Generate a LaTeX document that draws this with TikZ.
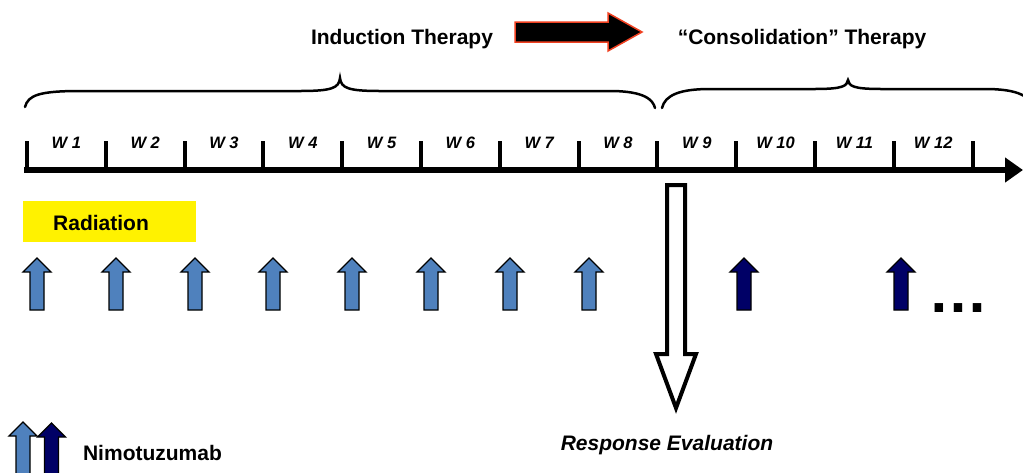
\documentclass[tikz,border=0pt]{standalone}
\usepackage{fontspec}
\setmainfont{Liberation Sans}
\usetikzlibrary{arrows.meta}
\definecolor{lblue}{HTML}{4F81BD}
\definecolor{navyblue}{HTML}{000066}
\definecolor{redline}{HTML}{F04020}
\tikzset{
  big/.style={font=\fontsize{21}{25}\selectfont\bfseries, inner sep=0pt, anchor=base},
  bigit/.style={font=\fontsize{21}{25}\selectfont\bfseries\itshape, inner sep=0pt, anchor=base},
  wk/.style={font=\fontsize{16.5}{19}\selectfont\bfseries\itshape, inner sep=0pt},
  tickline/.style={line width=4pt},
  bracepath/.style={line width=2.5pt, line cap=round},
  axisline/.style={line width=6.5pt, -{Triangle[length=18pt,width=24pt]}},
  lightarrow/.style={fill=lblue, draw=black, line width=1.3pt, line join=miter},
  darkarrow/.style={fill=navyblue, draw=black, line width=1.3pt, line join=miter},
  uparr/.pic={\path[pic actions] (0,0) -- (14,14) -- (7,14) -- (7,52) -- (-7,52) -- (-7,14) -- (-14,14) -- cycle;}
}
\begin{document}
\begin{tikzpicture}[x=1pt,y=-1pt]
\clip (0,0) rectangle (1023,472);
\fill[white] (0,0) rectangle (1023,472);
% titles
\node[big] (ind) at (402,44) {Induction Therapy};
\node[big] (cons) at (802,44) {“Consolidation” Therapy};
\draw[draw=redline, fill=black, line width=1.5pt, line join=miter]
  (515,22) -- (608,22) -- (608,13) -- (642,32) -- (608,51) -- (608,42) -- (515,42) -- cycle;
% braces
\draw[bracepath] (25,107) .. controls (28,95) and (40,91) .. (80,91) -- (300,91)
  .. controls (332,91) and (339,88) .. (340,78) .. controls (341,88) and (348,91) .. (380,91)
  -- (610,91) .. controls (645,91) and (653,100) .. (655,108);
\draw[bracepath] (662,108) .. controls (665,95) and (680,89) .. (710,89) -- (815,89)
  .. controls (843,89) and (847,86) .. (848,80) .. controls (849,86) and (853,89) .. (881,89)
  -- (985,89) .. controls (1020,89) and (1030,97) .. (1033,108);
% axis
\coordinate (a0) at (24,170);
\coordinate (a1) at (1023,170);
\draw[axisline] (a0) -- (a1);
\foreach \i in {0,...,12} \draw[tickline] ({27+78.8*\i},141) -- ({27+78.8*\i},168);
\foreach \i in {1,...,12} \node[wk] (w\i) at ({27+78.8*(\i-0.5)},142.5) {W \i};
% radiation
\node[fill=yellow, minimum width=173pt, minimum height=41pt, inner sep=0pt] (radbox) at (109.5,221.5) {};
\node[big] (rad) at (101,230) {Radiation};
% nimotuzumab arrows
\foreach \x in {37,116,195,273,352,431,510,589} \pic[lightarrow] at (\x,258) {uparr};
\foreach \x in {744,901} \pic[darkarrow] at (\x,258) {uparr};
\node[font=\fontsize{60}{60}\selectfont\bfseries, anchor=base, inner sep=0pt] (dots) at (958,312) {…};
% response evaluation
\draw[line width=4pt, fill=white, line join=miter, miter limit=10]
  (667,185) -- (685,185) -- (685,354) -- (696,354) -- (676,408) -- (656,354) -- (667,354) -- cycle;
\node[bigit] (resp) at (667,450) {Response Evaluation};
% legend
\pic[lightarrow] at (23,422) {uparr};
\pic[darkarrow] at (51.5,423) {uparr};
\node[big] (nimo) at (152.5,460) {Nimotuzumab};
\end{tikzpicture}
\end{document}
